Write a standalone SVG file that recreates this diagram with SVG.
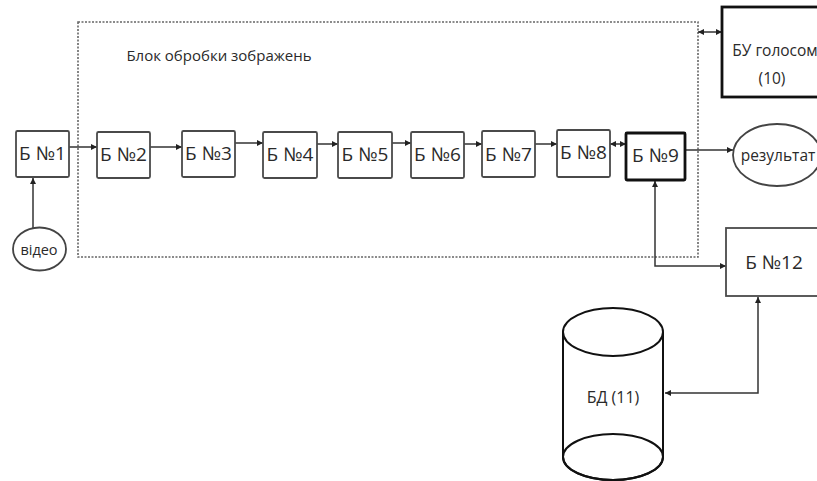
<svg xmlns="http://www.w3.org/2000/svg" width="817" height="481" viewBox="0 0 817 481">
<style>
.bx{fill:#fff;stroke:#4a4a4a;stroke-width:1.8}
.thick{fill:#fff;stroke:#111;stroke-width:2.8}
.t{font-family:"Open Sans","Liberation Sans",sans-serif;font-size:19px;fill:#2a2a2a;text-anchor:middle;dominant-baseline:central}
.s{font-size:15.5px}
.c{fill:none;stroke:#333;stroke-width:1.5}
.el{fill:#fff;stroke:#444;stroke-width:1.8}
</style>
<defs>
<marker id="ah" viewBox="0 0 10 10" refX="10" refY="5" markerWidth="6" markerHeight="6" orient="auto-start-reverse" markerUnits="userSpaceOnUse">
<path d="M0,0 L10,5 L0,10 z" fill="#222"/>
</marker>
</defs>
<rect x="0" y="0" width="817" height="481" fill="#fff"/>
<g id="image-block">
<rect x="78" y="22" width="620" height="235" fill="none" stroke="#666" stroke-width="1.6" stroke-dasharray="2,1.5"/>
<text class="t" style="font-size:15px" x="219" y="55">Блок обробки зображень</text>
</g>
<g id="connectors">
<line class="c" x1="33" y1="228" x2="33" y2="178" marker-end="url(#ah)"/>
<line class="c" x1="69" y1="147" x2="97" y2="147" marker-end="url(#ah)"/>
<line class="c" x1="150" y1="147" x2="182" y2="147" marker-end="url(#ah)"/>
<line class="c" x1="235" y1="143" x2="263" y2="143" marker-end="url(#ah)"/>
<line class="c" x1="317" y1="144" x2="338" y2="144" marker-end="url(#ah)"/>
<line class="c" x1="392" y1="143" x2="411" y2="143" marker-end="url(#ah)"/>
<line class="c" x1="464" y1="144" x2="482" y2="144" marker-end="url(#ah)"/>
<line class="c" x1="535" y1="144" x2="557" y2="144" marker-end="url(#ah)"/>
<line class="c" x1="610" y1="144" x2="626" y2="144" marker-start="url(#ah)" marker-end="url(#ah)"/>
<line class="c" x1="685" y1="150" x2="733" y2="150" marker-end="url(#ah)"/>
<line class="c" x1="698" y1="32" x2="722" y2="32" marker-start="url(#ah)" marker-end="url(#ah)"/>
<polyline class="c" points="655,181 655,266 726,266" marker-start="url(#ah)" marker-end="url(#ah)"/>
<polyline class="c" points="758,297 758,393 665,393" marker-start="url(#ah)" marker-end="url(#ah)"/>
</g>
<g id="b1"><rect class="bx" x="16" y="131" width="53" height="46" rx="1.5"/><text class="t" x="42.5" y="153">Б №1</text></g>
<g id="b2"><rect class="bx" x="97" y="132" width="53" height="46" rx="1.5"/><text class="t" x="123.5" y="154">Б №2</text></g>
<g id="b3"><rect class="bx" x="182" y="131" width="53" height="46" rx="1.5"/><text class="t" x="208.5" y="153">Б №3</text></g>
<g id="b4"><rect class="bx" x="263" y="132" width="54" height="46" rx="1.5"/><text class="t" x="290" y="154">Б №4</text></g>
<g id="b5"><rect class="bx" x="338" y="132" width="54" height="46" rx="1.5"/><text class="t" x="365" y="154">Б №5</text></g>
<g id="b6"><rect class="bx" x="411" y="132" width="53" height="46" rx="1.5"/><text class="t" x="437.5" y="154">Б №6</text></g>
<g id="b7"><rect class="bx" x="482" y="131" width="53" height="46" rx="1.5"/><text class="t" x="508.5" y="154">Б №7</text></g>
<g id="b8"><rect class="bx" x="557" y="130" width="53" height="47" rx="1.5"/><text class="t" x="583.5" y="152">Б №8</text></g>
<g id="b9"><rect class="thick" x="626" y="133" width="59" height="47" rx="1"/><text class="t" x="655.5" y="155">Б №9</text></g>
<g id="voice"><rect class="thick" x="722" y="7" width="100" height="90"/><text class="t s" x="775" y="50">БУ голосом</text><text class="t s" x="772" y="78">(10)</text></g>
<g id="result"><ellipse class="el" cx="777" cy="155" rx="44" ry="31"/><text class="t s" x="778" y="155">результат</text></g>
<g id="video"><ellipse class="el" cx="39.5" cy="249" rx="26.5" ry="21.5"/><text class="t" style="font-size:14.5px" x="39" y="249">відео</text></g>
<g id="b12"><rect class="bx" x="726" y="228" width="100" height="68"/><text class="t" x="774" y="262">Б №12</text></g>
<g id="db">
<path d="M563,332 L563,457 A50,23 0 0 0 663,457 L663,332" fill="#fff" stroke="#111" stroke-width="2"/>
<ellipse cx="613" cy="457" rx="50" ry="23" fill="none" stroke="#111" stroke-width="2"/>
<ellipse cx="613" cy="332" rx="50" ry="24" fill="#fff" stroke="#111" stroke-width="2"/>
<text class="t" style="font-size:16px" x="613" y="397">БД (11)</text>
</g>
</svg>
